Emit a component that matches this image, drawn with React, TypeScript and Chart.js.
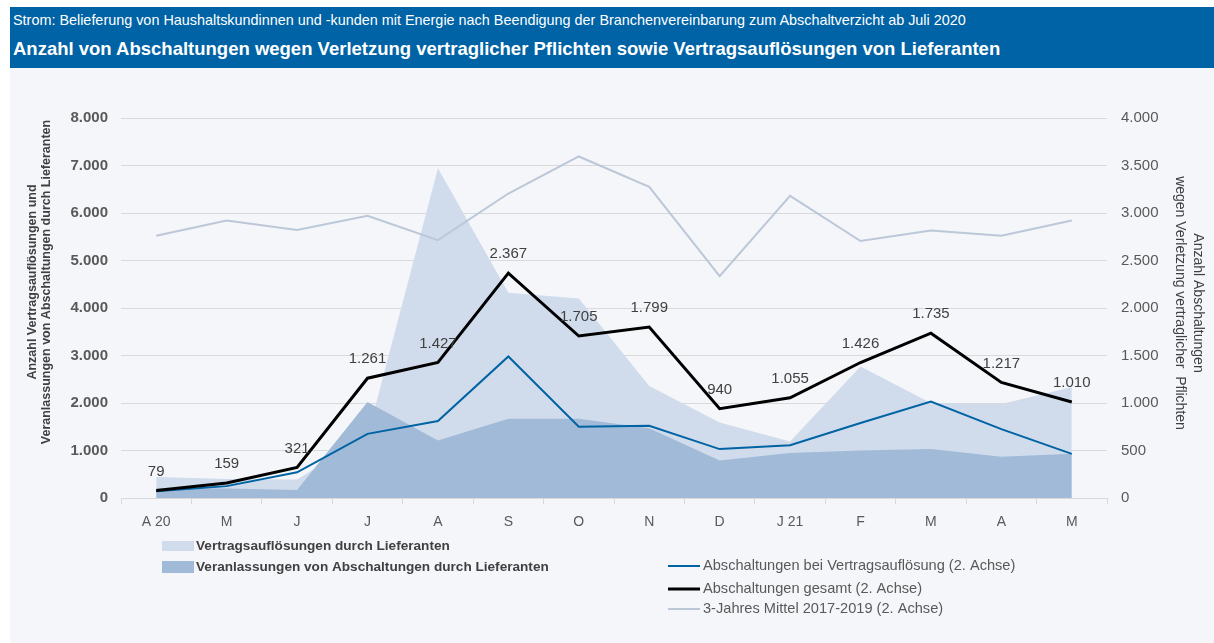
import React, { useEffect, useRef } from "react";
import { Chart, registerables } from "chart.js";

Chart.register(...registerables);

const categories = ["A 20", "M", "J", "J", "A", "S", "O", "N", "D", "J 21", "F", "M", "A", "M"];
const vertragsaufloesungen = [440, 400, 390, 1300, 6940, 4320, 4200, 2360, 1590, 1190, 2770, 2000, 1980, 2330];
const veranlassungen = [200, 200, 170, 2020, 1210, 1670, 1670, 1470, 790, 950, 1000, 1030, 870, 930];
const abschaltungenVertrag = [70, 125, 270, 675, 810, 1490, 750, 760, 515, 555, 790, 1015, 725, 465];
const abschaltungenGesamt = [79, 159, 321, 1261, 1427, 2367, 1705, 1799, 940, 1055, 1426, 1735, 1217, 1010];
const mittel2017_2019 = [2760, 2920, 2820, 2970, 2715, 3205, 3595, 3275, 2335, 3180, 2705, 2815, 2760, 2920];
const leftTicks = { min: 0, max: 8000, step: 1000 };
const rightTicks = { min: 0, max: 4000, step: 500 };

const FONT = "'Liberation Sans', Arial, sans-serif";
const fmt = (v: number) => String(Math.round(v)).replace(/\B(?=(\d{3})+(?!\d))/g, ".");

const axisTitlePlugin = {
  id: "axisTitles",
  afterDraw(chart: any) {
    const ctx = chart.ctx;
    ctx.save();
    ctx.fillStyle = "#404040";
    ctx.textAlign = "center";
    ctx.textBaseline = "middle";
    ctx.font = `bold 12.5px ${FONT}`;
    const cyL = 214;
    ctx.save();
    ctx.translate(23, cyL);
    ctx.rotate(-Math.PI / 2);
    ctx.fillText("Anzahl Vertragsauflösungen und", 0, 0);
    ctx.restore();
    ctx.save();
    ctx.translate(37, cyL);
    ctx.rotate(-Math.PI / 2);
    ctx.fillText("Veranlassungen von Abschaltungen durch Lieferanten", 0, 0);
    ctx.restore();
    ctx.font = `14px ${FONT}`;
    const cyR = 235;
    ctx.save();
    ctx.translate(1188, cyR);
    ctx.rotate(Math.PI / 2);
    ctx.fillText("Anzahl Abschaltungen", 0, 0);
    ctx.restore();
    ctx.save();
    ctx.translate(1170, cyR);
    ctx.rotate(Math.PI / 2);
    ctx.fillText("wegen Verletzung vertraglicher  Pflichten", 0, 0);
    ctx.restore();
    ctx.restore();
  },
};

const dataLabelPlugin = {
  id: "dataLabels",
  afterDatasetsDraw(chart: any) {
    const ctx = chart.ctx;
    const meta = chart.getDatasetMeta(3);
    const ds = chart.data.datasets[3];
    ctx.save();
    ctx.font = `15px ${FONT}`;
    ctx.fillStyle = "#404040";
    ctx.textAlign = "center";
    ctx.textBaseline = "middle";
    meta.data.forEach((pt: any, i: number) => {
      ctx.fillText(fmt(ds.data[i]), pt.x, pt.y - 19);
    });
    ctx.restore();
  },
};

const legendPlugin = {
  id: "customLegend",
  afterDraw(chart: any) {
    const ctx = chart.ctx;
    const ds = chart.data.datasets;
    ctx.save();
    ctx.textBaseline = "middle";
    ctx.textAlign = "left";
    const leftItems = [
      { i: 0, y: 478, h: 10 },
      { i: 1, y: 499, h: 12 },
    ];
    leftItems.forEach((it) => {
      ctx.fillStyle = ds[it.i].backgroundColor;
      ctx.fillRect(152, it.y - it.h / 2, 32, it.h);
      ctx.fillStyle = "#404040";
      ctx.font = `bold 13.6px ${FONT}`;
      ctx.fillText(ds[it.i].label, 186, it.y);
    });
    const rightItems = [
      { i: 2, y: 498 },
      { i: 3, y: 521 },
      { i: 4, y: 541 },
    ];
    rightItems.forEach((it) => {
      ctx.strokeStyle = ds[it.i].borderColor;
      ctx.lineWidth = ds[it.i].borderWidth;
      ctx.beginPath();
      ctx.moveTo(658, it.y);
      ctx.lineTo(690, it.y);
      ctx.stroke();
      ctx.fillStyle = "#595959";
      ctx.font = `14.6px ${FONT}`;
      ctx.fillText(ds[it.i].label, 693, it.y);
    });
    ctx.restore();
  },
};

export default function App() {
  const ref = useRef<HTMLCanvasElement | null>(null);
  useEffect(() => {
    if (!ref.current) return;
    const chart = new Chart(ref.current, {
      type: "line",
      data: {
        labels: categories,
        datasets: [
          {
            label: "Vertragsauflösungen durch Lieferanten",
            data: vertragsaufloesungen,
            yAxisID: "y",
            backgroundColor: "#D0DCEB",
            borderColor: "#D0DCEB",
            borderWidth: 0,
            fill: "origin",
            pointRadius: 0,
            order: 5,
          },
          {
            label: "Veranlassungen von Abschaltungen durch Lieferanten",
            data: veranlassungen,
            yAxisID: "y",
            backgroundColor: "#A1BAD8",
            borderColor: "#A1BAD8",
            borderWidth: 0,
            fill: "origin",
            pointRadius: 0,
            order: 4,
          },
          {
            label: "Abschaltungen bei Vertragsauflösung (2. Achse)",
            data: abschaltungenVertrag,
            yAxisID: "y2",
            borderColor: "#0063A3",
            backgroundColor: "#0063A3",
            borderWidth: 2,
            fill: false,
            pointRadius: 0,
            order: 2,
          },
          {
            label: "Abschaltungen gesamt (2. Achse)",
            data: abschaltungenGesamt,
            yAxisID: "y2",
            borderColor: "#000000",
            backgroundColor: "#000000",
            borderWidth: 3,
            fill: false,
            pointRadius: 0,
            order: 1,
          },
          {
            label: "3-Jahres Mittel 2017-2019 (2. Achse)",
            data: mittel2017_2019,
            yAxisID: "y2",
            borderColor: "#BCC7D8",
            backgroundColor: "#BCC7D8",
            borderWidth: 2,
            fill: false,
            pointRadius: 0,
            order: 3,
          },
        ],
      },
      options: {
        responsive: false,
        animation: false,
        layout: { padding: { top: 50, left: 0, right: 0, bottom: 0 } },
        elements: { line: { tension: 0 }, point: { radius: 0 } },
        plugins: { legend: { display: false }, tooltip: { enabled: false } },
        scales: {
          x: {
            offset: true,
            grid: { offset: true, drawOnChartArea: false, tickLength: 6, color: "#D9D9D9" },
            border: { display: true, color: "#D9D9D9" },
            ticks: { color: "#595959", font: { size: 14, family: FONT }, padding: 10, maxRotation: 0, autoSkip: false },
            afterFit: (s: any) => {
              s.height = 145;
            },
          },
          y: {
            position: "left",
            min: leftTicks.min,
            max: leftTicks.max,
            grid: { color: "#D9D9D9", drawTicks: false },
            border: { display: false },
            ticks: {
              stepSize: leftTicks.step,
              color: "#595959",
              padding: 13,
              font: { size: 15, weight: "bold", family: FONT },
              callback: (v: any) => fmt(Number(v)),
            },
            afterFit: (s: any) => {
              s.width = 111;
            },
          },
          y2: {
            position: "right",
            min: rightTicks.min,
            max: rightTicks.max,
            grid: { drawOnChartArea: false, drawTicks: false },
            border: { display: false },
            ticks: {
              stepSize: rightTicks.step,
              color: "#595959",
              padding: 14,
              font: { size: 15, family: FONT },
              callback: (v: any) => fmt(Number(v)),
            },
            afterFit: (s: any) => {
              s.width = 107;
            },
          },
        },
      },
      plugins: [axisTitlePlugin, dataLabelPlugin, legendPlugin],
    } as any);
    return () => chart.destroy();
  }, []);

  return (
    <div style={{ position: "absolute", left: 0, top: 0, width: 1214, height: 643, background: "#FFFFFF", overflow: "hidden" }}>
      <div
        style={{
          position: "absolute",
          left: 10,
          top: 7,
          width: 1204,
          height: 61,
          background: "#0063A6",
          color: "#FFFFFF",
          fontFamily: FONT,
        }}
      >
        <div style={{ position: "absolute", left: 3, top: 5, fontSize: 14.4, whiteSpace: "nowrap", lineHeight: "16px" }}>
          Strom: Belieferung von Haushaltskundinnen und -kunden mit Energie nach Beendigung der Branchenvereinbarung zum Abschaltverzicht ab Juli 2020
        </div>
        <div style={{ position: "absolute", left: 3, top: 31, fontSize: 18.5, fontWeight: "bold", whiteSpace: "nowrap", lineHeight: "22px" }}>
          Anzahl von Abschaltungen wegen Verletzung vertraglicher Pflichten sowie Vertragsauflösungen von Lieferanten
        </div>
      </div>
      <div style={{ position: "absolute", left: 10, top: 68, width: 1204, height: 575, background: "#F4F6FA" }}>
        <canvas ref={ref} width={1204} height={575} style={{ display: "block", width: 1204, height: 575 }} />
      </div>
    </div>
  );
}
